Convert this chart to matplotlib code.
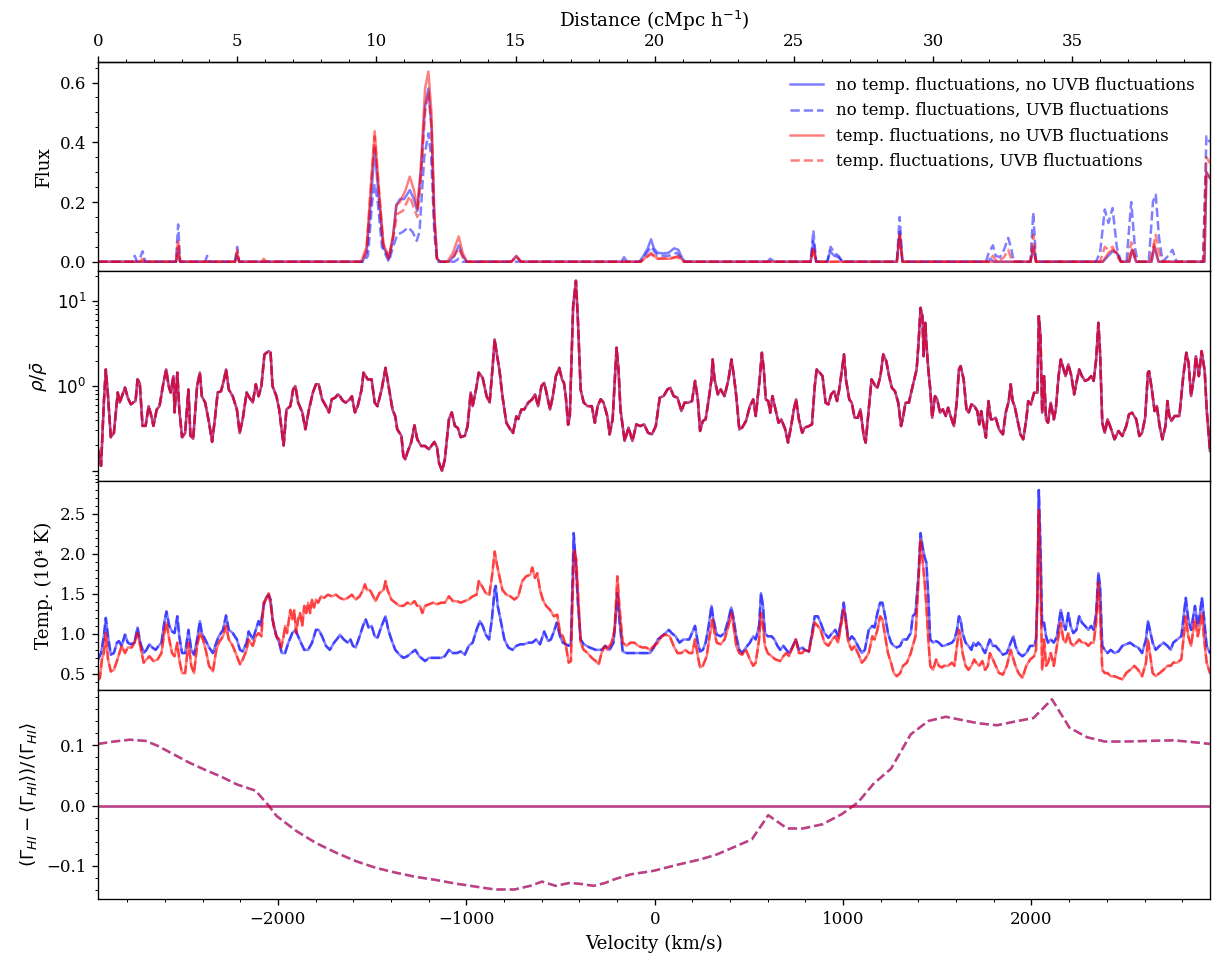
import numpy as np
import matplotlib
matplotlib.use("Agg")
import matplotlib.pyplot as plt
from matplotlib.ticker import AutoMinorLocator, NullFormatter

plt.rcParams["font.family"] = "serif"
plt.rcParams["font.serif"] = ["DejaVu Serif"]
plt.rcParams["mathtext.fontset"] = "dejavusans"
plt.rcParams["axes.labelsize"] = 11

# Sightline geometry: comoving distance (cMpc/h) <-> Hubble velocity (km/s)
KMS_PER_CMPC = 147.75
BOX_CENTRE = 20.0


def to_velocity(d):
    return (np.asarray(d, dtype=float) - BOX_CENTRE) * KMS_PER_CMPC


def to_distance(v):
    return np.asarray(v, dtype=float) / KMS_PER_CMPC + BOX_CENTRE


# ---------------------------------------------------------------- flux
flux_nt_nu_d = [0, 2.80, 2.88, 2.95, 4.90, 5.00, 5.08, 9.50, 9.65, 9.80, 9.94, 10.08, 10.25, 10.45,
                10.60, 10.72, 10.85, 11.00, 11.20, 11.35, 11.47, 11.60, 11.75, 11.87, 11.98, 12.08,
                12.18, 12.30, 12.60, 12.80, 12.96, 13.10, 13.25, 14.85, 15.03, 15.20, 18.80, 18.90,
                19.00, 19.45, 19.60, 19.75, 19.87, 19.97, 20.10, 20.30, 20.50, 20.70, 20.85, 21.00,
                21.10, 24.05, 24.15, 24.30, 25.60, 25.70, 25.80, 26.20, 26.30, 26.45, 26.60, 26.75,
                28.70, 28.80, 28.90, 32.00, 32.05, 32.20, 33.50, 33.60, 33.70, 36.10, 36.30, 36.45,
                36.60, 36.75, 37.05, 37.15, 37.30, 37.85, 37.95, 38.10, 39.75, 39.82, 39.95]
flux_nt_nu = [0, 0, 0.03, 0, 0, 0.02, 0, 0, 0.03, 0.20, 0.38, 0.22, 0.05, 0.01,
              0.08, 0.19, 0.21, 0.21, 0.24, 0.21, 0.17, 0.30, 0.52, 0.58, 0.45, 0.15,
              0.01, 0, 0, 0.02, 0.055, 0.02, 0, 0, 0.018, 0, 0, 0.015,
              0, 0, 0.02, 0.045, 0.075, 0.045, 0.03, 0.028, 0.03, 0.045, 0.04, 0.01,
              0, 0, 0.01, 0, 0, 0.07, 0, 0, 0.035, 0.02, 0.015, 0,
              0, 0.10, 0, 0, 0.01, 0, 0, 0.05, 0, 0, 0.02, 0.035,
              0.03, 0, 0, 0.04, 0, 0, 0.05, 0, 0, 0.30, 0.28]

flux_nt_u_d = [0, 1.25, 1.32, 1.40, 1.50, 1.60, 1.70, 2.80, 2.88, 2.95, 3.85, 3.92, 4.00, 4.92,
               5.00, 5.07, 9.55, 9.70, 9.85, 9.94, 10.05, 10.20, 10.45, 10.60, 10.75, 10.95, 11.15,
               11.30, 11.45, 11.55, 11.72, 11.87, 11.97, 12.08, 12.18, 12.80, 12.96, 13.10, 19.50,
               19.87, 20.10, 20.50, 20.80, 21.05, 25.60, 25.70, 25.80, 26.20, 26.32, 26.45, 26.60,
               26.75, 28.70, 28.80, 28.90, 31.90, 32.00, 32.15, 32.25, 32.40, 32.55, 32.70, 32.82,
               32.90, 33.50, 33.60, 33.70, 35.85, 36.00, 36.17, 36.30, 36.45, 36.60, 36.75, 36.95,
               37.12, 37.25, 37.35, 37.75, 37.90, 38.00, 38.12, 38.25, 38.45, 38.60, 38.75, 39.70,
               39.82, 39.95]
flux_nt_u = [0, 0, 0.02, 0, 0.01, 0.035, 0, 0, 0.125, 0, 0, 0.02, 0, 0,
             0.05, 0, 0, 0.02, 0.20, 0.26, 0.20, 0.05, 0, 0.05, 0.09, 0.10, 0.115,
             0.10, 0.07, 0.10, 0.35, 0.43, 0.35, 0.10, 0, 0, 0.01, 0, 0,
             0.05, 0.02, 0.02, 0.03, 0, 0, 0.105, 0, 0, 0.05, 0.03, 0.02,
             0, 0, 0.15, 0, 0, 0.03, 0.055, 0.02, 0.015, 0.04, 0.08, 0.04,
             0, 0, 0.165, 0, 0, 0.03, 0.175, 0.13, 0.18, 0.05, 0, 0,
             0.20, 0.05, 0, 0, 0.20, 0.225, 0.08, 0, 0.02, 0.04, 0, 0,
             0.42, 0.40]

flux_t_nu_d = [0, 2.80, 2.88, 2.95, 4.92, 5.00, 5.07, 5.88, 5.95, 6.05, 9.45, 9.65, 9.80, 9.94,
               10.08, 10.25, 10.45, 10.60, 10.72, 10.85, 11.05, 11.20, 11.35, 11.47, 11.60, 11.75,
               11.87, 11.98, 12.08, 12.18, 12.30, 12.55, 12.75, 12.96, 13.10, 13.25, 14.85, 15.03,
               15.20, 19.50, 19.87, 20.10, 20.60, 20.85, 21.05, 25.60, 25.70, 25.80, 28.70, 28.80,
               28.90, 33.50, 33.60, 33.70, 36.10, 36.30, 36.45, 36.60, 36.75, 37.05, 37.15, 37.30,
               37.85, 37.95, 38.10, 39.75, 39.82, 39.95]
flux_t_nu = [0, 0, 0.05, 0, 0, 0.03, 0, 0, 0.01, 0, 0, 0.05, 0.25, 0.437,
             0.26, 0.06, 0.015, 0.09, 0.19, 0.20, 0.24, 0.285, 0.24, 0.18, 0.32, 0.58,
             0.637, 0.50, 0.17, 0.01, 0, 0, 0.03, 0.085, 0.03, 0, 0, 0.02,
             0, 0, 0.03, 0.01, 0.01, 0.02, 0, 0, 0.04, 0, 0, 0.09,
             0, 0, 0.04, 0, 0, 0.03, 0.04, 0.03, 0, 0, 0.04, 0,
             0, 0.06, 0, 0, 0.30, 0.28]

flux_t_u_d = [0, 1.50, 1.60, 1.70, 2.80, 2.88, 2.95, 4.92, 5.00, 5.07, 9.50, 9.65, 9.80, 9.94,
              10.08, 10.25, 10.45, 10.60, 10.75, 10.95, 11.20, 11.35, 11.47, 11.60, 11.75, 11.87,
              11.98, 12.08, 12.18, 12.30, 12.60, 12.80, 12.96, 13.10, 13.25, 14.85, 15.03, 15.20,
              19.50, 19.87, 20.10, 20.80, 21.05, 25.60, 25.70, 25.80, 28.70, 28.80, 28.90, 32.00,
              32.15, 32.30, 32.55, 32.70, 32.85, 33.50, 33.60, 33.70, 36.00, 36.17, 36.30, 36.45,
              36.60, 36.75, 37.00, 37.12, 37.25, 37.35, 37.80, 38.00, 38.12, 38.25, 39.70, 39.82,
              39.95]
flux_t_u = [0, 0, 0.01, 0, 0, 0.075, 0, 0, 0.04, 0, 0, 0.04, 0.24, 0.42,
            0.25, 0.06, 0.01, 0.08, 0.16, 0.17, 0.22, 0.18, 0.15, 0.28, 0.50, 0.57,
            0.45, 0.14, 0.01, 0, 0, 0.02, 0.045, 0.015, 0, 0, 0.015, 0,
            0, 0.025, 0.01, 0.015, 0, 0, 0.05, 0, 0, 0.09, 0, 0,
            0.02, 0, 0.015, 0.04, 0, 0, 0.09, 0, 0, 0.05, 0.04, 0.05,
            0.02, 0, 0, 0.065, 0.02, 0, 0, 0.09, 0.03, 0, 0, 0.35,
            0.33]

# ---------------------------------------------------------------- density
dens_d = [0.00, 0.11, 0.21, 0.28, 0.36, 0.46, 0.57, 0.71, 0.78, 0.97, 1.07, 1.18, 1.35, 1.42,
          1.50, 1.60, 1.71, 1.82, 1.92, 1.99, 2.11, 2.21, 2.35, 2.45, 2.54, 2.61, 2.71, 2.75,
          2.85, 2.92, 3.02, 3.13, 3.25, 3.32, 3.42, 3.56, 3.66, 3.73, 3.85, 3.99, 4.10, 4.20,
          4.30, 4.42, 4.53, 4.60, 4.70, 4.84, 4.99, 5.09, 5.20, 5.34, 5.41, 5.56, 5.67, 5.77,
          5.87, 5.98, 6.13, 6.20, 6.27, 6.41, 6.51, 6.58, 6.67, 6.77, 6.91, 7.01, 7.09, 7.19,
          7.34, 7.45, 7.58, 7.72, 7.83, 7.93, 8.05, 8.19, 8.30, 8.40, 8.52, 8.62, 8.69, 8.80,
          8.90, 9.05, 9.12, 9.23, 9.33, 9.47, 9.54, 9.69, 9.83, 9.94, 10.04, 10.19, 10.33, 10.44,
          10.58, 10.68, 10.75, 10.90, 10.97, 11.04, 11.11, 11.25, 11.37, 11.47, 11.61, 11.75,
          11.89, 12.08, 12.18, 12.25, 12.36, 12.46, 12.61, 12.71, 12.82, 12.93, 13.03, 13.18,
          13.28, 13.39, 13.46, 13.58, 13.68, 13.82, 13.96, 14.07, 14.17, 14.25, 14.32, 14.42,
          14.53, 14.67, 14.81, 14.91, 15.03, 15.10, 15.21, 15.31, 15.46, 15.60, 15.70, 15.81,
          15.93, 16.03, 16.10, 16.24, 16.34, 16.45, 16.57, 16.67, 16.74, 16.81, 16.89, 16.95,
          17.07, 17.17, 17.24, 17.34, 17.45, 17.59, 17.74, 17.85, 17.95, 18.06, 18.16, 18.30,
          18.38, 18.49, 18.56, 18.63, 18.70, 18.77, 18.92, 19.06, 19.20, 19.34, 19.48, 19.62,
          19.76, 19.90, 20.04, 20.18, 20.32, 20.46, 20.56, 20.68, 20.82, 20.96, 21.07, 21.21,
          21.34, 21.45, 21.55, 21.63, 21.73, 21.83, 21.94, 22.04, 22.08, 22.15, 22.27, 22.37,
          22.51, 22.65, 22.76, 22.86, 22.93, 23.04, 23.14, 23.28, 23.42, 23.54, 23.63, 23.77,
          23.85, 23.92, 23.99, 24.08, 24.15, 24.23, 24.34, 24.45, 24.55, 24.69, 24.79, 24.90,
          25.00, 25.08, 25.18, 25.30, 25.39, 25.54, 25.65, 25.75, 25.82, 25.93, 26.03, 26.14,
          26.24, 26.34, 26.45, 26.55, 26.63, 26.73, 26.80, 26.87, 26.99, 27.08, 27.18, 27.30,
          27.39, 27.51, 27.58, 27.69, 27.79, 27.93, 28.00, 28.11, 28.21, 28.32, 28.42, 28.52,
          28.63, 28.75, 28.85, 28.92, 29.01, 29.13, 29.24, 29.34, 29.41, 29.48, 29.55, 29.62,
          29.66, 29.72, 29.76, 29.83, 29.90, 29.97, 30.07, 30.15, 30.25, 30.35, 30.46, 30.54,
          30.63, 30.75, 30.85, 30.93, 30.99, 31.10, 31.20, 31.28, 31.38, 31.48, 31.59, 31.66,
          31.73, 31.80, 31.90, 31.99, 32.08, 32.15, 32.25, 32.37, 32.51, 32.61, 32.72, 32.79,
          32.86, 32.93, 33.03, 33.14, 33.24, 33.35, 33.42, 33.52, 33.63, 33.75, 33.80, 33.86,
          33.92, 33.99, 34.06, 34.13, 34.23, 34.34, 34.41, 34.51, 34.59, 34.69, 34.76, 34.86,
          34.97, 35.07, 35.15, 35.25, 35.35, 35.46, 35.58, 35.68, 35.77, 35.86, 35.94, 36.00,
          36.08, 36.17, 36.27, 36.38, 36.52, 36.66, 36.80, 36.94, 37.04, 37.15, 37.30, 37.41,
          37.51, 37.62, 37.72, 37.76, 37.86, 37.96, 38.04, 38.14, 38.24, 38.35, 38.42, 38.49,
          38.56, 38.68, 38.85, 38.99, 39.10, 39.18, 39.27, 39.38, 39.44, 39.55, 39.65, 39.76,
          39.83, 39.95]
dens = [0.18, 0.115, 0.64, 1.57, 0.76, 0.25, 0.28, 0.84, 0.64, 0.96, 0.73, 0.61, 0.67, 1.20,
        1.09, 0.34, 0.34, 0.58, 0.44, 0.34, 0.53, 0.58, 1.09, 1.57, 1.00, 0.84, 1.31, 0.49,
        1.44, 0.53, 0.25, 0.28, 0.91, 0.26, 0.24, 1.00, 1.44, 0.76, 0.64, 0.37, 0.22, 0.41,
        0.84, 0.87, 1.20, 1.57, 0.91, 0.76, 0.53, 0.28, 0.41, 0.84, 0.76, 0.64, 1.05, 0.76,
        1.00, 2.36, 2.58, 2.47, 1.00, 0.76, 0.53, 0.34, 0.20, 0.53, 0.58, 0.91, 1.00, 0.64,
        0.49, 0.31, 0.53, 0.84, 1.05, 1.05, 0.70, 0.58, 0.49, 0.70, 0.73, 0.80, 0.76, 0.67,
        0.64, 0.70, 0.76, 0.49, 0.58, 0.91, 1.44, 1.20, 1.20, 0.64, 0.58, 0.91, 1.64, 1.00,
        0.53, 0.44, 0.31, 0.26, 0.15, 0.137, 0.164, 0.216, 0.345, 0.236, 0.197, 0.197,
        0.18, 0.22, 0.19, 0.125, 0.100, 0.137, 0.41, 0.49, 0.34, 0.32, 0.25, 0.26,
        0.34, 0.84, 0.58, 0.91, 1.44, 1.25, 0.76, 0.64, 1.57, 3.54, 2.47, 1.57,
        0.76, 0.37, 0.31, 0.28, 0.44, 0.41, 0.53, 0.53, 0.64, 0.70, 0.80, 0.58,
        1.00, 1.09, 0.87, 0.53, 0.76, 1.31, 1.64, 1.20, 1.09, 0.73, 0.35, 0.44,
        8.74, 17.4, 6.09, 0.91, 0.64, 0.58, 0.58, 0.37, 0.58, 0.70, 0.64, 0.44,
        0.27, 0.41, 1.05, 2.83, 1.57, 0.53, 0.226, 0.324, 0.226, 0.354, 0.338, 0.354,
        0.282, 0.270, 0.338, 0.729, 0.763, 0.914, 0.956, 0.763, 0.729, 0.508, 0.637, 0.637,
        0.666, 1.15, 0.697, 0.296, 0.388, 0.406, 0.697, 1.20, 2.06, 1.20, 0.798, 0.914,
        0.763, 1.20, 2.06, 1.20, 0.763, 0.309, 0.324, 0.388, 0.582, 0.697, 0.444, 1.20,
        2.47, 1.57, 0.697, 0.666, 0.486, 0.763, 0.532, 0.370, 0.406, 0.309, 0.216, 0.338,
        0.532, 0.697, 0.406, 0.282, 0.324, 0.338, 0.354, 1.00, 1.57, 1.44, 1.31, 0.637,
        0.609, 0.798, 0.873, 0.666, 0.914, 1.57, 2.36, 1.20, 0.697, 0.637, 0.424, 0.424,
        0.532, 0.258, 0.216, 0.532, 1.20, 1.00, 0.956, 1.31, 2.36, 1.97, 1.31, 0.956,
        0.873, 0.637, 0.338, 0.424, 0.637, 0.637, 0.914, 1.25, 1.57, 3.23, 8.35, 6.66,
        2.25, 5.56, 3.23, 1.57, 0.914, 0.424, 0.763, 0.697, 0.486, 0.532, 0.444, 0.556,
        0.444, 0.338, 0.637, 1.57, 1.72, 1.20, 0.532, 0.486, 0.609, 0.582, 0.508, 0.354,
        0.508, 0.370, 0.247, 0.666, 0.406, 0.406, 0.424, 0.309, 0.270, 0.486, 0.666, 1.05,
        0.666, 0.582, 0.406, 0.270, 0.236, 0.406, 0.666, 0.609, 0.835, 0.835, 6.66, 3.87,
        0.486, 1.31, 0.406, 0.370, 0.637, 0.406, 0.532, 1.31, 2.06, 1.57, 1.31, 1.80,
        1.31, 0.798, 1.09, 1.57, 1.31, 1.15, 1.20, 1.31, 1.15, 2.06, 5.56, 2.47,
        0.370, 0.282, 0.406, 0.324, 0.236, 0.296, 0.258, 0.338, 0.464, 0.486, 0.406, 0.258,
        0.282, 0.424, 1.44, 1.50, 0.914, 0.508, 0.582, 0.338, 0.236, 0.338, 0.666, 0.444,
        0.388, 0.444, 0.444, 1.31, 2.47, 1.88, 0.763, 1.31, 2.25, 1.31, 2.58, 1.50,
        0.532, 0.172]

# ---------------------------------------------------------------- temperature (1e4 K)
temp_uni_d = [0.00, 0.11, 0.21, 0.28, 0.36, 0.46, 0.57, 0.68, 0.75, 0.85, 0.97, 1.07, 1.18, 1.31,
              1.42, 1.52, 1.64, 1.74, 1.85, 1.95, 2.07, 2.18, 2.28, 2.38, 2.46, 2.56, 2.66, 2.75,
              2.85, 2.92, 3.02, 3.13, 3.25, 3.35, 3.45, 3.56, 3.66, 3.73, 3.85, 3.99, 4.13, 4.25,
              4.34, 4.49, 4.60, 4.70, 4.84, 4.99, 5.10, 5.20, 5.34, 5.41, 5.56, 5.67, 5.77, 5.84,
              5.95, 6.03, 6.13, 6.20, 6.27, 6.41, 6.51, 6.60, 6.72, 6.84, 6.98, 7.09, 7.19, 7.29,
              7.41, 7.55, 7.69, 7.83, 7.93, 8.05, 8.19, 8.33, 8.48, 8.62, 8.69, 8.83, 8.97, 9.07,
              9.16, 9.26, 9.40, 9.52, 9.62, 9.72, 9.83, 9.94, 10.04, 10.19, 10.33, 10.43, 10.54,
              10.68, 10.83, 10.97, 11.11, 11.25, 11.40, 11.54, 11.75, 11.89, 12.04, 12.18, 12.32,
              12.46, 12.61, 12.75, 12.89, 13.03, 13.18, 13.32, 13.46, 13.60, 13.72, 13.82, 13.93,
              14.05, 14.15, 14.25, 14.29, 14.36, 14.46, 14.60, 14.74, 14.89, 15.03, 15.17, 15.31,
              15.46, 15.60, 15.74, 15.88, 16.03, 16.17, 16.27, 16.38, 16.48, 16.60, 16.70, 16.81,
              16.91, 16.99, 17.05, 17.09, 17.17, 17.24, 17.34, 17.45, 17.66, 17.88, 18.09, 18.23,
              18.38, 18.52, 18.56, 18.66, 18.73, 18.85, 18.99, 19.20, 19.41, 19.62, 19.83, 19.97,
              20.11, 20.25, 20.39, 20.51, 20.61, 20.75, 20.89, 21.03, 21.24, 21.45, 21.55, 21.63,
              21.73, 21.83, 21.94, 22.04, 22.11, 22.23, 22.37, 22.51, 22.65, 22.75, 22.82, 22.93,
              23.04, 23.14, 23.28, 23.42, 23.54, 23.63, 23.75, 23.82, 23.89, 23.96, 24.06, 24.20,
              24.30, 24.41, 24.51, 24.62, 24.73, 24.83, 24.97, 25.07, 25.18, 25.30, 25.39, 25.54,
              25.63, 25.75, 25.86, 25.96, 26.10, 26.24, 26.38, 26.49, 26.59, 26.69, 26.79, 26.87,
              26.94, 27.01, 27.08, 27.18, 27.30, 27.44, 27.55, 27.69, 27.82, 27.90, 28.00, 28.10,
              28.18, 28.28, 28.38, 28.49, 28.59, 28.70, 28.82, 28.92, 29.06, 29.20, 29.27, 29.37,
              29.48, 29.55, 29.62, 29.69, 29.76, 29.83, 29.90, 30.00, 30.11, 30.21, 30.32, 30.39,
              30.54, 30.68, 30.77, 30.86, 30.93, 30.99, 31.06, 31.17, 31.27, 31.38, 31.45, 31.55,
              31.62, 31.73, 31.80, 31.87, 31.94, 32.04, 32.15, 32.25, 32.37, 32.51, 32.65, 32.79,
              32.89, 32.96, 33.07, 33.21, 33.35, 33.49, 33.63, 33.70, 33.75, 33.80, 33.86, 33.92,
              33.99, 34.06, 34.13, 34.23, 34.34, 34.45, 34.59, 34.68, 34.76, 34.86, 34.94, 35.04,
              35.15, 35.25, 35.35, 35.46, 35.58, 35.68, 35.77, 35.86, 35.94, 36.00, 36.08, 36.17,
              36.27, 36.38, 36.52, 36.66, 36.80, 36.94, 37.08, 37.23, 37.37, 37.51, 37.65, 37.72,
              37.79, 37.89, 38.00, 38.14, 38.28, 38.42, 38.54, 38.63, 38.77, 38.92, 39.03, 39.08,
              39.17, 39.27, 39.37, 39.41, 39.51, 39.59, 39.66, 39.73, 39.83, 39.95]
temp_uni = [0.68, 0.76, 0.97, 1.20, 0.97, 0.74, 0.76, 0.89, 0.91, 0.85, 0.99, 0.89, 0.87, 0.89,
            1.08, 0.89, 0.76, 0.80, 0.87, 0.83, 0.80, 0.85, 0.89, 1.14, 1.28, 1.10, 1.03, 1.01,
            1.22, 0.97, 0.76, 0.76, 1.05, 0.80, 0.74, 0.93, 1.16, 1.01, 0.93, 0.83, 0.76, 0.89,
            0.97, 1.05, 1.23, 1.05, 1.01, 0.93, 0.80, 0.78, 0.89, 1.03, 0.93, 1.05, 1.16, 1.10,
            1.35, 1.45, 1.49, 1.43, 1.18, 0.97, 0.89, 0.76, 0.76, 0.89, 1.01, 1.05, 0.97, 0.89,
            0.80, 0.80, 0.89, 1.05, 1.05, 0.97, 0.85, 0.80, 0.89, 0.95, 0.99, 0.93, 0.89, 0.93,
            0.85, 0.83, 0.97, 1.10, 1.18, 1.08, 1.10, 0.97, 0.95, 1.10, 1.22, 1.05, 0.93,
            0.80, 0.74, 0.70, 0.72, 0.76, 0.80, 0.72, 0.66, 0.70, 0.70, 0.70, 0.70,
            0.72, 0.80, 0.76, 0.76, 0.78, 0.74, 0.85, 0.89, 1.05, 1.16, 1.10, 0.99,
            0.93, 1.18, 1.55, 1.60, 1.35, 1.18, 0.93, 0.83, 0.80, 0.85, 0.87, 0.87,
            0.89, 0.89, 0.93, 0.87, 1.03, 0.91, 0.93, 1.03, 1.14, 0.97, 0.89, 0.87,
            0.85, 0.89, 1.68, 2.26, 1.85, 1.39, 0.93, 0.87, 0.83, 0.80, 0.80, 0.85,
            0.80, 0.89, 1.05, 1.51, 1.18, 0.78, 0.76, 0.76, 0.76, 0.76, 0.76, 0.83,
            0.93, 0.97, 1.01, 1.05, 1.01, 0.97, 0.89, 0.93, 0.93, 1.10, 0.89, 0.78,
            0.80, 0.89, 1.10, 1.35, 1.18, 0.99, 0.97, 1.01, 1.18, 1.33, 1.22, 0.97,
            0.80, 0.76, 0.83, 0.89, 0.97, 0.93, 1.10, 1.51, 1.35, 1.01, 0.97, 0.97,
            0.93, 0.85, 0.80, 0.85, 0.80, 0.76, 0.85, 0.93, 0.80, 0.83, 0.80, 0.78,
            0.97, 1.22, 1.22, 1.14, 1.01, 0.95, 1.01, 1.05, 0.97, 1.14, 1.39, 1.18,
            0.97, 0.93, 0.97, 0.93, 0.85, 0.76, 0.80, 1.05, 1.10, 1.08, 1.26, 1.39,
            1.39, 1.22, 1.01, 0.89, 0.85, 0.83, 0.85, 0.93, 0.93, 1.01, 1.22, 1.26,
            1.76, 2.26, 2.10, 1.97, 1.89, 1.47, 0.93, 0.89, 0.91, 0.89, 0.85, 0.85,
            0.87, 0.89, 0.93, 1.05, 1.22, 1.18, 1.01, 0.89, 0.85, 0.80, 0.89, 0.85,
            0.89, 0.85, 0.80, 0.76, 0.83, 0.93, 0.85, 0.85, 0.80, 0.74, 0.76, 0.89,
            0.97, 0.85, 0.76, 0.72, 0.76, 0.85, 0.85, 0.93, 1.51, 2.80, 2.10, 1.10,
            1.14, 0.97, 0.89, 0.93, 0.89, 0.97, 1.30, 1.14, 1.05, 1.26, 1.10, 1.01,
            1.05, 1.22, 1.14, 1.10, 1.05, 1.10, 1.05, 1.26, 1.76, 1.60, 0.85, 0.80,
            0.76, 0.80, 0.76, 0.78, 0.85, 0.87, 0.89, 0.85, 0.83, 0.76, 0.93, 1.16,
            1.05, 0.89, 0.80, 0.85, 0.89, 0.85, 0.80, 0.89, 0.93, 0.97, 1.30, 1.45,
            1.18, 1.05, 1.26, 1.35, 1.10, 1.26, 1.45, 1.22, 0.85, 0.76]

temp_fluc_d = [0.00, 0.07, 0.14, 0.21, 0.28, 0.36, 0.46, 0.57, 0.68, 0.85, 0.97, 1.07, 1.21, 1.31,
               1.42, 1.52, 1.64, 1.74, 1.85, 1.99, 2.14, 2.28, 2.38, 2.46, 2.56, 2.66, 2.75, 2.85,
               2.92, 3.02, 3.13, 3.25, 3.35, 3.45, 3.56, 3.66, 3.77, 3.87, 3.99, 4.13, 4.25, 4.34,
               4.49, 4.60, 4.70, 4.84, 4.99, 5.10, 5.20, 5.34, 5.41, 5.56, 5.67, 5.77, 5.87, 5.95,
               6.03, 6.13, 6.21, 6.31, 6.41, 6.51, 6.58, 6.67, 6.72, 6.79, 6.91, 6.98, 7.05, 7.12,
               7.19, 7.26, 7.34, 7.41, 7.48, 7.55, 7.62, 7.69, 7.76, 7.83, 7.91, 8.01, 8.12, 8.26,
               8.40, 8.55, 8.69, 8.83, 8.97, 9.12, 9.26, 9.40, 9.52, 9.59, 9.66, 9.76, 9.83, 9.97,
               10.11, 10.26, 10.33, 10.40, 10.54, 10.68, 10.83, 10.97, 11.11, 11.25, 11.37, 11.47,
               11.57, 11.65, 11.75, 11.89, 12.04, 12.18, 12.32, 12.46, 12.61, 12.75, 12.89, 13.03,
               13.18, 13.32, 13.46, 13.60, 13.68, 13.79, 13.93, 14.06, 14.17, 14.25, 14.32, 14.42,
               14.53, 14.67, 14.81, 14.96, 15.10, 15.24, 15.38, 15.53, 15.60, 15.70, 15.78, 15.88,
               15.98, 16.10, 16.24, 16.38, 16.50, 16.60, 16.70, 16.81, 16.91, 16.99, 17.05, 17.11,
               17.18, 17.24, 17.34, 17.45, 17.59, 17.74, 17.88, 17.99, 18.09, 18.21, 18.30, 18.45,
               18.56, 18.66, 18.73, 18.85, 18.99, 19.13, 19.27, 19.41, 19.55, 19.69, 19.83, 19.97,
               20.11, 20.25, 20.39, 20.54, 20.68, 20.82, 20.96, 21.10, 21.24, 21.35, 21.45, 21.55,
               21.63, 21.73, 21.87, 21.97, 22.08, 22.15, 22.23, 22.37, 22.51, 22.65, 22.76, 22.83,
               22.93, 23.04, 23.14, 23.28, 23.42, 23.54, 23.63, 23.75, 23.82, 23.89, 23.96, 24.06,
               24.20, 24.34, 24.51, 24.62, 24.73, 24.83, 24.97, 25.07, 25.18, 25.30, 25.39, 25.54,
               25.63, 25.75, 25.86, 25.96, 26.10, 26.24, 26.38, 26.49, 26.59, 26.69, 26.79, 26.87,
               26.94, 27.01, 27.08, 27.18, 27.30, 27.44, 27.55, 27.69, 27.82, 27.90, 28.00, 28.10,
               28.18, 28.28, 28.38, 28.49, 28.59, 28.70, 28.82, 28.92, 29.06, 29.20, 29.27, 29.37,
               29.48, 29.55, 29.62, 29.69, 29.76, 29.83, 29.90, 30.00, 30.11, 30.21, 30.32, 30.39,
               30.54, 30.68, 30.77, 30.86, 30.93, 30.99, 31.06, 31.17, 31.27, 31.38, 31.48, 31.55,
               31.66, 31.77, 31.87, 31.97, 32.04, 32.15, 32.25, 32.37, 32.51, 32.65, 32.79, 32.89,
               32.96, 33.07, 33.21, 33.35, 33.49, 33.63, 33.70, 33.75, 33.80, 33.86, 33.92, 33.99,
               34.06, 34.13, 34.23, 34.34, 34.45, 34.59, 34.68, 34.76, 34.86, 34.94, 35.04, 35.15,
               35.25, 35.35, 35.46, 35.58, 35.68, 35.77, 35.86, 35.94, 36.00, 36.08, 36.17, 36.27,
               36.38, 36.52, 36.66, 36.80, 36.94, 37.08, 37.23, 37.37, 37.51, 37.65, 37.72, 37.79,
               37.89, 38.00, 38.14, 38.28, 38.42, 38.54, 38.63, 38.77, 38.92, 39.03, 39.08, 39.17,
               39.27, 39.37, 39.41, 39.51, 39.59, 39.66, 39.73, 39.83, 39.95]
temp_fluc = [0.42, 0.45, 0.68, 0.76, 1.01, 0.68, 0.53, 0.55, 0.66, 0.85, 0.76, 0.83, 0.83, 0.89,
             1.01, 0.85, 0.64, 0.68, 0.72, 0.66, 0.68, 0.76, 1.01, 1.14, 0.93, 0.76, 0.72, 0.89,
             0.68, 0.51, 0.51, 0.89, 0.60, 0.51, 0.85, 1.01, 0.93, 0.80, 0.60, 0.53, 0.80, 0.89,
             0.97, 1.10, 0.93, 0.85, 0.72, 0.62, 0.68, 0.80, 0.93, 0.85, 0.97, 1.01, 0.97, 1.39,
             1.43, 1.51, 1.35, 1.10, 0.97, 0.93, 0.83, 0.97, 1.10, 1.01, 1.30, 1.18, 1.30, 1.01,
             1.18, 1.26, 1.10, 1.35, 1.26, 1.39, 1.26, 1.43, 1.33, 1.43, 1.39, 1.47, 1.45, 1.49,
             1.47, 1.49, 1.45, 1.43, 1.45, 1.49, 1.43, 1.47, 1.55, 1.62, 1.55, 1.55, 1.51, 1.41,
             1.51, 1.55, 1.66, 1.55, 1.43, 1.39, 1.35, 1.35, 1.39, 1.37, 1.41, 1.35,
             1.35, 1.26, 1.35, 1.37, 1.39, 1.37, 1.39, 1.39, 1.47, 1.41, 1.41, 1.39,
             1.41, 1.43, 1.47, 1.49, 1.66, 1.60, 1.51, 1.49, 1.76, 2.03, 1.89, 1.72,
             1.55, 1.49, 1.47, 1.43, 1.47, 1.66, 1.72, 1.74, 1.83, 1.70, 1.76, 1.55,
             1.43, 1.35, 1.30, 1.22, 1.24, 1.01, 0.97, 0.85, 0.64, 0.66, 1.47, 2.05,
             1.93, 1.55, 0.89, 0.80, 0.76, 0.70, 0.66, 0.62, 0.76, 0.85, 0.80, 0.89,
             1.05, 1.72, 1.35, 0.89, 0.85, 0.89, 0.89, 0.85, 0.83, 0.83, 0.80, 0.85,
             0.89, 0.97, 0.99, 0.97, 0.85, 0.76, 0.76, 0.80, 0.76, 0.76, 0.93, 0.72,
             0.58, 0.60, 0.72, 0.97, 1.18, 1.01, 0.89, 0.87, 0.93, 1.10, 1.26, 1.10,
             0.85, 0.76, 0.74, 0.80, 0.68, 0.60, 0.64, 0.93, 1.26, 1.10, 0.85, 0.76,
             0.72, 0.68, 0.66, 0.72, 0.76, 0.72, 0.85, 0.93, 0.76, 0.76, 0.80, 0.78,
             0.93, 1.14, 1.10, 1.05, 0.89, 0.85, 0.93, 0.97, 0.89, 1.10, 1.30, 1.14,
             0.93, 0.85, 0.80, 0.85, 0.76, 0.64, 0.68, 0.76, 0.97, 0.93, 1.05, 1.22,
             1.18, 0.97, 0.76, 0.64, 0.51, 0.47, 0.51, 0.60, 0.64, 0.76, 0.85, 0.97,
             1.68, 2.18, 1.93, 1.68, 1.35, 0.93, 0.60, 0.55, 0.68, 0.60, 0.58, 0.60,
             0.60, 0.64, 0.60, 0.85, 1.05, 0.97, 0.76, 0.60, 0.55, 0.60, 0.68, 0.64,
             0.60, 0.66, 0.55, 0.60, 0.76, 0.68, 0.60, 0.51, 0.49, 0.60, 0.80, 0.68,
             0.60, 0.51, 0.45, 0.60, 0.68, 0.72, 0.80, 1.47, 2.55, 1.68, 0.55, 0.93,
             0.60, 0.64, 0.76, 0.60, 0.85, 1.14, 0.93, 0.89, 1.01, 0.89, 0.85, 0.89,
             0.93, 0.89, 0.89, 0.85, 0.89, 0.89, 1.14, 1.64, 1.26, 0.55, 0.51, 0.51,
             0.47, 0.47, 0.45, 0.43, 0.51, 0.55, 0.60, 0.55, 0.47, 0.64, 0.93, 0.76,
             0.51, 0.47, 0.51, 0.55, 0.60, 0.60, 0.64, 0.64, 0.68, 1.05, 1.22, 0.97,
             0.85, 1.10, 1.18, 0.97, 1.10, 1.26, 0.97, 0.64, 0.51]

# ---------------------------------------------------------------- photoionisation rate
gamma_d = [0.00, 0.57, 1.14, 1.71, 2.14, 2.71, 3.28, 3.85, 4.42, 4.99, 5.70, 5.77, 6.13, 6.41,
           7.12, 7.83, 8.55, 9.26, 9.97, 10.68, 11.40, 12.11, 12.82, 13.53, 14.25, 14.96, 15.53,
           15.95, 16.45, 16.95, 17.38, 17.81, 18.23, 18.56, 19.13, 19.97, 20.82, 21.66, 22.23,
           22.79, 23.49, 24.08, 24.76, 25.32, 26.03, 26.73, 27.30, 27.86, 28.49, 29.20, 29.83,
           30.46, 31.10, 31.66, 32.30, 32.93, 33.61, 34.27, 34.90, 35.54, 36.17, 36.87, 37.72,
           38.63, 39.13, 39.95]
gamma_fluc = [0.102, 0.106, 0.109, 0.107, 0.099, 0.085, 0.071, 0.059, 0.048, 0.035, 0.024, 0.019,
              0.0, -0.017, -0.042, -0.062, -0.078, -0.092, -0.103, -0.111, -0.118, -0.123, -0.129,
              -0.134, -0.139, -0.139, -0.133, -0.126, -0.133, -0.128, -0.130, -0.133, -0.128,
              -0.122, -0.114, -0.108, -0.098, -0.089, -0.081, -0.070, -0.056, -0.016, -0.038,
              -0.038, -0.031, -0.014, 0.005, 0.036, 0.061, 0.118, 0.140, 0.147, 0.141, 0.136,
              0.133, 0.139, 0.145, 0.176, 0.129, 0.113, 0.106, 0.106, 0.107, 0.108, 0.106, 0.102]
gamma_uniform = np.zeros(len(gamma_d))

labels = ["no temp. fluctuations, no UVB fluctuations",
          "no temp. fluctuations, UVB fluctuations",
          "temp. fluctuations, no UVB fluctuations",
          "temp. fluctuations, UVB fluctuations"]
styles = [("blue", "-"), ("blue", "--"), ("red", "-"), ("red", "--")]
ALPHA = 0.5

fig, axes = plt.subplots(4, 1, sharex=True, figsize=(1214 / 120, 963 / 120), dpi=120)
fig.subplots_adjust(left=98 / 1214, right=1210 / 1214, top=1 - 62 / 963,
                    bottom=1 - 899 / 963, hspace=0)
ax_f, ax_r, ax_t, ax_g = axes

# Flux
flux_sets = [(flux_nt_nu_d, flux_nt_nu), (flux_nt_u_d, flux_nt_u),
             (flux_t_nu_d, flux_t_nu), (flux_t_u_d, flux_t_u)]
for (d, f), (c, ls), lab in zip(flux_sets, styles, labels):
    ax_f.plot(to_velocity(d), f, color=c, ls=ls, alpha=ALPHA, label=lab)
ax_f.set_ylabel("Flux")
ax_f.legend(loc="upper right", frameon=False, fontsize=10)

# Density (identical in all four models)
for c, ls in styles:
    ax_r.plot(to_velocity(dens_d), dens, color=c, ls=ls, alpha=ALPHA)
ax_r.set_yscale("log")
ax_r.set_ylabel(r"$\rho/\bar{\rho}$")

# Temperature
temp_sets = [(temp_uni_d, temp_uni), (temp_uni_d, temp_uni),
             (temp_fluc_d, temp_fluc), (temp_fluc_d, temp_fluc)]
for (d, t), (c, ls) in zip(temp_sets, styles):
    ax_t.plot(to_velocity(d), t, color=c, ls=ls, alpha=ALPHA)
ax_t.set_ylabel("Temp. (10\u2074 K)")

# Photoionisation rate fluctuation
gamma_sets = [gamma_uniform, gamma_fluc, gamma_uniform, gamma_fluc]
for g, (c, ls) in zip(gamma_sets, styles):
    ax_g.plot(to_velocity(gamma_d), g, color=c, ls=ls, alpha=ALPHA)
ax_g.set_ylabel(r"$(\Gamma_{HI} - \langle\Gamma_{HI}\rangle)/\langle\Gamma_{HI}\rangle$")
ax_g.set_xlabel("Velocity (km/s)")

ax_g.set_xlim(to_velocity(0.0), to_velocity(39.95))

for ax in (ax_f, ax_t, ax_g):
    ax.yaxis.set_minor_locator(AutoMinorLocator())
ax_g.xaxis.set_minor_locator(AutoMinorLocator())

ax_r.set_yticks([0.1, 1, 10])
ax_r.set_yticklabels(["", r"$10^{0}$", r"$10^{1}$"])
ax_r.yaxis.set_minor_formatter(NullFormatter())

sec = ax_f.secondary_xaxis("top", functions=(to_distance, to_velocity))
sec.set_xlabel("Distance (cMpc h$^{-1}$)")
sec.set_xticks([0, 5, 10, 15, 20, 25, 30, 35])
sec.xaxis.set_minor_locator(AutoMinorLocator())

fig.savefig("out.png", dpi=120)
